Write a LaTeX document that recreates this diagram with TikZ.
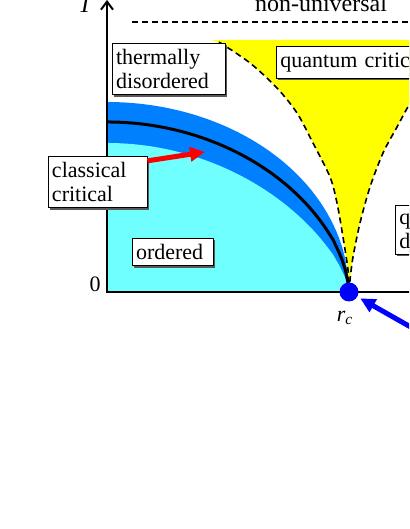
\documentclass[tikz,border=0pt]{standalone}
\usepackage{fontspec}
\setmainfont{Liberation Serif}
\usetikzlibrary{arrows.meta,shadows,calc}
\definecolor{ordcyan}{RGB}{112,255,255}
\definecolor{bandblue}{RGB}{0,128,255}
\definecolor{qcyellow}{RGB}{255,255,0}

\begin{document}
\begin{tikzpicture}[x=0.5pt, y=0.5pt,
  regionbox/.style={draw, thin, fill=white, inner xsep=2pt, inner ysep=3pt, align=left,
    font=\fontsize{11}{12}\selectfont,
    drop shadow={shadow xshift=1pt, shadow yshift=-1pt, fill=black!65, opacity=1}},
  crossover/.style={draw, line width=0.8pt, dash pattern=on 3pt off 2pt},
  bigarrow/.style={line width=2.5pt, -{Triangle[length=7.5pt,width=7pt]}}]
\useasboundingbox (-107,-237) rectangle (302,292);
\clip (-107,-237) rectangle (302,292);
% axes
\coordinate (O) at (0,0);
\coordinate (Ttop) at (0,292);
\coordinate (Rend) at (330,0);
\coordinate (rc) at (242,0);
% quantum critical fan
\fill[qcyellow] (104,252) -- plot[smooth] coordinates {(112,250) (143,229) (170,204) (190,179) (206,149) (223,115) (230,89) (236,55) (241,22) (242,0)}
  -- plot[smooth] coordinates {(242,0) (243,12) (246,35) (253,69) (263,105) (276,139) (290,165) (302,187) (315,208)} -- (315,252) -- cycle;
% ordered phase and classical critical band
\fill[bandblue] (O) -- plot[domain=0:0.999, samples=80] ({242*\x},{190*sqrt(1-\x*\x)}) -- (rc) -- cycle;
\fill[ordcyan] (O) -- plot[domain=0:0.999, samples=80] ({242*\x},{149*(1-\x*\x)^0.68}) -- (rc) -- cycle;
\draw[line width=1.5pt] plot[domain=0:0.999, samples=80] ({242*\x},{170*(1-\x*\x)^0.58}) -- (rc);
% crossovers
\path[crossover] plot[smooth] coordinates {(112,250) (143,229) (170,204) (190,179) (206,149) (223,115) (230,89) (236,55) (241,22) (242,0)};
\path[crossover] plot[smooth] coordinates {(242,0) (243,12) (246,35) (253,69) (263,105) (276,139) (290,165) (302,187) (315,208)};
\path[crossover] (25,270) -- (330,270);
\node[anchor=base, font=\fontsize{12}{14}\selectfont] (nonuniv) at (214,280) {non-universal};
% axes on top
\path[draw, line width=1pt, {Straight Barb[length=4pt,width=6pt]}-] (Ttop) -- (O) -- (Rend);
\node[anchor=base, font=\fontsize{12}{14}\selectfont\itshape] (Tlab) at (-22,279) {T};
\node[anchor=base east, inner sep=0pt, font=\fontsize{11}{12}\selectfont] (zero) at (-6,0) {0};
% regions
\node[regionbox, text width=52.5pt] (thermal) at (61.5,223) {thermally\\disordered};
\node[regionbox, text width=90pt, anchor=west] (qc) at (169,230) {quantum critical};
\node[regionbox, text width=45.5pt] (cc) at (-9.5,110) {classical\\critical};
\node[regionbox, text width=36.5pt] (ord) at (65.5,40) {ordered};
\node[regionbox, text width=55pt, anchor=west] (qd) at (288,62) {quantum\\disordered};
% critical point
\node[circle, fill=blue, minimum size=9.5pt, inner sep=0pt] (rcdot) at (rc) {};
\node[font=\fontsize{11}{12}\selectfont] (rclab) at (238,-26) {\textit{r}\textsubscript{\textit{c}}};
\coordinate (cctip) at (98,140);
\coordinate (qcp) at (353,-63);
\draw[bigarrow, red] ([yshift=-2.5pt]cc.north east) -- (cctip);
\draw[bigarrow, blue, shorten >=1.5pt] (qcp) -- (rcdot);
\end{tikzpicture}
\end{document}
